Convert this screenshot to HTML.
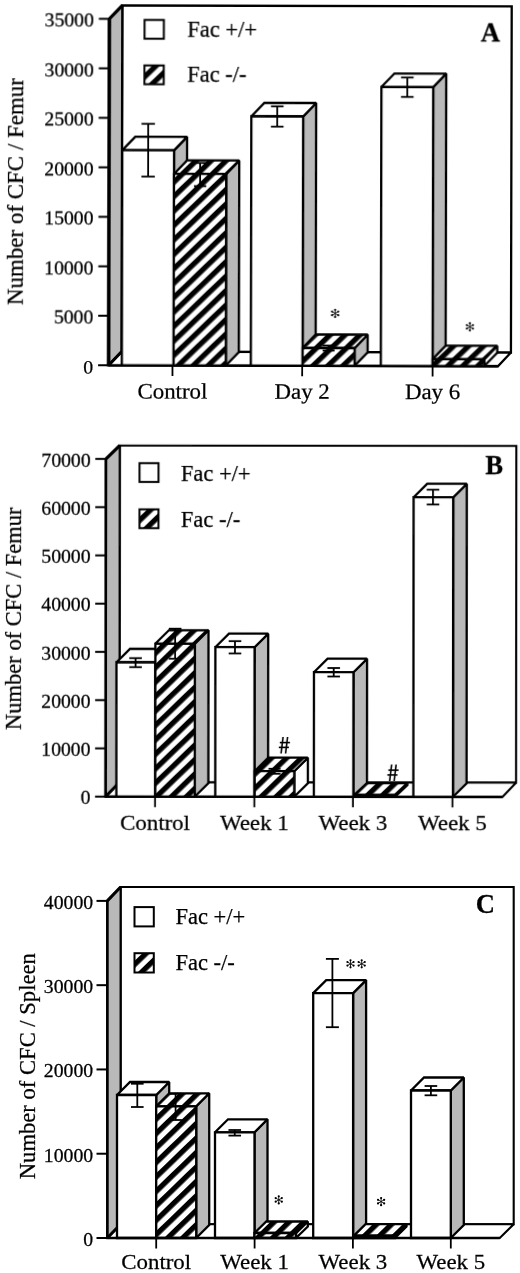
<!DOCTYPE html>
<html><head><meta charset="utf-8"><style>
html,body{margin:0;padding:0;background:#fff;}
svg{display:block;}
text{font-family:"Liberation Serif", serif;fill:#000;stroke:#000;stroke-width:0.25px;}
</style></head><body>
<svg width="520" height="1273" viewBox="0 0 520 1273">
<defs>
<pattern id="hatchA" patternUnits="userSpaceOnUse" width="10.4" height="20" patternTransform="rotate(46) translate(-0.23,0)"><rect x="0" y="0" width="10.4" height="20" fill="#fff"/><rect x="0" y="0" width="5.3" height="20" fill="#000"/></pattern>
<pattern id="hatchB" patternUnits="userSpaceOnUse" width="10.4" height="20" patternTransform="rotate(46) translate(3.3,0)"><rect x="0" y="0" width="10.4" height="20" fill="#fff"/><rect x="0" y="0" width="5.3" height="20" fill="#000"/></pattern>
<pattern id="hatchC" patternUnits="userSpaceOnUse" width="10.4" height="20" patternTransform="rotate(46) translate(-4.37,0)"><rect x="0" y="0" width="10.4" height="20" fill="#fff"/><rect x="0" y="0" width="5.3" height="20" fill="#000"/></pattern>
<pattern id="hatchLA" patternUnits="userSpaceOnUse" width="10.4" height="20" patternTransform="rotate(46) translate(-2.85,0)"><rect x="0" y="0" width="10.4" height="20" fill="#fff"/><rect x="0" y="0" width="5.3" height="20" fill="#000"/></pattern>
<pattern id="hatchLB" patternUnits="userSpaceOnUse" width="10.4" height="20" patternTransform="rotate(46) translate(0.75,0)"><rect x="0" y="0" width="10.4" height="20" fill="#fff"/><rect x="0" y="0" width="5.3" height="20" fill="#000"/></pattern>
<pattern id="hatchLC" patternUnits="userSpaceOnUse" width="10.4" height="20" patternTransform="rotate(46) translate(-5.75,0)"><rect x="0" y="0" width="10.4" height="20" fill="#fff"/><rect x="0" y="0" width="5.3" height="20" fill="#000"/></pattern>
</defs>
<filter id="soft" filterUnits="userSpaceOnUse" x="0" y="0" width="520" height="1273"><feGaussianBlur stdDeviation="0.3"/></filter>
<rect x="0" y="0" width="520" height="1273" fill="#fff"/>
<g filter="url(#soft)">
<g transform="rotate(0.13 310 190)">
<polygon points="121.90,5.90 511.30,5.90 511.30,352.10 121.90,352.10" fill="#fff" stroke="#000" stroke-width="2.3" stroke-linejoin="miter" stroke-miterlimit="2" />
<polygon points="109.00,365.80 109.00,19.30 121.90,5.90 121.90,352.10" fill="#b9b9b9" stroke="#000" stroke-width="2.3" stroke-linejoin="miter" stroke-miterlimit="2" />
<polygon points="109.00,365.80 121.90,352.10 511.30,352.10 498.30,365.80" fill="#fff" stroke="#000" stroke-width="2.3" stroke-linejoin="miter" stroke-miterlimit="2" />
<line x1="109.00" y1="365.80" x2="121.90" y2="352.10" stroke="#000" stroke-width="3.0"/>
<line x1="98.50" y1="365.80" x2="109.00" y2="365.80" stroke="#000" stroke-width="2.0"/>
<text transform="translate(93.60,373.90) scale(1.05,1.0)" font-size="18.8" text-anchor="end" font-weight="normal">0</text>
<line x1="98.50" y1="316.30" x2="109.00" y2="316.30" stroke="#000" stroke-width="2.0"/>
<text transform="translate(93.60,324.40) scale(1.05,1.0)" font-size="18.8" text-anchor="end" font-weight="normal">5000</text>
<line x1="98.50" y1="266.80" x2="109.00" y2="266.80" stroke="#000" stroke-width="2.0"/>
<text transform="translate(93.60,274.90) scale(1.05,1.0)" font-size="18.8" text-anchor="end" font-weight="normal">10000</text>
<line x1="98.50" y1="217.30" x2="109.00" y2="217.30" stroke="#000" stroke-width="2.0"/>
<text transform="translate(93.60,225.40) scale(1.05,1.0)" font-size="18.8" text-anchor="end" font-weight="normal">15000</text>
<line x1="98.50" y1="167.80" x2="109.00" y2="167.80" stroke="#000" stroke-width="2.0"/>
<text transform="translate(93.60,175.90) scale(1.05,1.0)" font-size="18.8" text-anchor="end" font-weight="normal">20000</text>
<line x1="98.50" y1="118.30" x2="109.00" y2="118.30" stroke="#000" stroke-width="2.0"/>
<text transform="translate(93.60,126.40) scale(1.05,1.0)" font-size="18.8" text-anchor="end" font-weight="normal">25000</text>
<line x1="98.50" y1="68.80" x2="109.00" y2="68.80" stroke="#000" stroke-width="2.0"/>
<text transform="translate(93.60,76.90) scale(1.05,1.0)" font-size="18.8" text-anchor="end" font-weight="normal">30000</text>
<line x1="98.50" y1="19.30" x2="109.00" y2="19.30" stroke="#000" stroke-width="2.0"/>
<text transform="translate(93.60,27.40) scale(1.05,1.0)" font-size="18.8" text-anchor="end" font-weight="normal">35000</text>
<line x1="172.90" y1="365.80" x2="172.90" y2="376.30" stroke="#000" stroke-width="1.8"/>
<text transform="translate(172.90,398.80) scale(1.04,1.0)" font-size="22" text-anchor="middle" font-weight="normal">Control</text>
<line x1="302.60" y1="365.80" x2="302.60" y2="376.30" stroke="#000" stroke-width="1.8"/>
<text transform="translate(302.60,398.80) scale(1.04,1.0)" font-size="22" text-anchor="middle" font-weight="normal">Day 2</text>
<line x1="433.00" y1="365.80" x2="433.00" y2="376.30" stroke="#000" stroke-width="1.8"/>
<text transform="translate(433.00,398.80) scale(1.04,1.0)" font-size="22" text-anchor="middle" font-weight="normal">Day 6</text>
<polygon points="174.00,365.80 174.00,150.60 187.00,137.10 187.00,352.30" fill="#b9b9b9" stroke="#000" stroke-width="2.3" stroke-linejoin="miter" stroke-miterlimit="2" />
<polygon points="122.20,150.60 135.20,137.10 187.00,137.10 174.00,150.60" fill="#fff" stroke="#000" stroke-width="2.3" stroke-linejoin="miter" stroke-miterlimit="2" />
<polygon points="122.20,365.80 122.20,150.60 174.00,150.60 174.00,365.80" fill="#fff" stroke="#000" stroke-width="2.3" stroke-linejoin="miter" stroke-miterlimit="2" />
<line x1="148.10" y1="124.20" x2="148.10" y2="176.90" stroke="#000" stroke-width="1.8"/>
<line x1="141.40" y1="124.20" x2="154.80" y2="124.20" stroke="#000" stroke-width="1.8"/>
<line x1="141.40" y1="176.90" x2="154.80" y2="176.90" stroke="#000" stroke-width="1.8"/>
<polygon points="226.20,365.80 226.20,174.20 239.20,160.70 239.20,352.30" fill="#b9b9b9" stroke="#000" stroke-width="2.3" stroke-linejoin="miter" stroke-miterlimit="2" />
<polygon points="174.00,174.20 187.00,160.70 239.20,160.70 226.20,174.20" fill="url(#hatchA)" stroke="#000" stroke-width="2.3" stroke-linejoin="miter" stroke-miterlimit="2" />
<polygon points="174.00,365.80 174.00,174.20 226.20,174.20 226.20,365.80" fill="url(#hatchA)" stroke="#000" stroke-width="2.3" stroke-linejoin="miter" stroke-miterlimit="2" />
<line x1="200.10" y1="163.20" x2="200.10" y2="186.40" stroke="#000" stroke-width="1.8"/>
<line x1="193.90" y1="163.20" x2="206.30" y2="163.20" stroke="#000" stroke-width="1.8"/>
<line x1="193.90" y1="186.40" x2="206.30" y2="186.40" stroke="#000" stroke-width="1.8"/>
<polygon points="303.00,365.80 303.00,116.50 316.00,103.00 316.00,352.30" fill="#b9b9b9" stroke="#000" stroke-width="2.3" stroke-linejoin="miter" stroke-miterlimit="2" />
<polygon points="251.20,116.50 264.20,103.00 316.00,103.00 303.00,116.50" fill="#fff" stroke="#000" stroke-width="2.3" stroke-linejoin="miter" stroke-miterlimit="2" />
<polygon points="251.20,365.80 251.20,116.50 303.00,116.50 303.00,365.80" fill="#fff" stroke="#000" stroke-width="2.3" stroke-linejoin="miter" stroke-miterlimit="2" />
<line x1="277.10" y1="106.40" x2="277.10" y2="126.70" stroke="#000" stroke-width="1.8"/>
<line x1="270.80" y1="106.40" x2="283.40" y2="106.40" stroke="#000" stroke-width="1.8"/>
<line x1="270.80" y1="126.70" x2="283.40" y2="126.70" stroke="#000" stroke-width="1.8"/>
<polygon points="355.00,365.80 355.00,348.00 368.00,334.50 368.00,352.30" fill="#b9b9b9" stroke="#000" stroke-width="2.3" stroke-linejoin="miter" stroke-miterlimit="2" />
<polygon points="303.00,348.00 316.00,334.50 368.00,334.50 355.00,348.00" fill="url(#hatchA)" stroke="#000" stroke-width="2.3" stroke-linejoin="miter" stroke-miterlimit="2" />
<polygon points="303.00,365.80 303.00,348.00 355.00,348.00 355.00,365.80" fill="url(#hatchA)" stroke="#000" stroke-width="2.3" stroke-linejoin="miter" stroke-miterlimit="2" />
<line x1="329.00" y1="345.50" x2="329.00" y2="350.50" stroke="#000" stroke-width="1.8"/>
<line x1="323.00" y1="345.50" x2="335.00" y2="345.50" stroke="#000" stroke-width="1.8"/>
<line x1="323.00" y1="350.50" x2="335.00" y2="350.50" stroke="#000" stroke-width="1.8"/>
<polygon points="433.00,365.80 433.00,86.80 446.00,73.30 446.00,352.30" fill="#b9b9b9" stroke="#000" stroke-width="2.3" stroke-linejoin="miter" stroke-miterlimit="2" />
<polygon points="381.20,86.80 394.20,73.30 446.00,73.30 433.00,86.80" fill="#fff" stroke="#000" stroke-width="2.3" stroke-linejoin="miter" stroke-miterlimit="2" />
<polygon points="381.20,365.80 381.20,86.80 433.00,86.80 433.00,365.80" fill="#fff" stroke="#000" stroke-width="2.3" stroke-linejoin="miter" stroke-miterlimit="2" />
<line x1="407.10" y1="77.30" x2="407.10" y2="96.70" stroke="#000" stroke-width="1.8"/>
<line x1="400.80" y1="77.30" x2="413.40" y2="77.30" stroke="#000" stroke-width="1.8"/>
<line x1="400.80" y1="96.70" x2="413.40" y2="96.70" stroke="#000" stroke-width="1.8"/>
<polygon points="484.60,365.80 484.60,358.90 497.60,345.40 497.60,352.30" fill="#fff" stroke="#000" stroke-width="2.3" stroke-linejoin="miter" stroke-miterlimit="2" />
<polygon points="433.00,358.90 446.00,345.40 497.60,345.40 484.60,358.90" fill="url(#hatchA)" stroke="#000" stroke-width="2.3" stroke-linejoin="miter" stroke-miterlimit="2" />
<polygon points="433.00,365.80 433.00,358.90 484.60,358.90 484.60,365.80" fill="url(#hatchA)" stroke="#000" stroke-width="2.3" stroke-linejoin="miter" stroke-miterlimit="2" />
<line x1="109.00" y1="19.30" x2="109.00" y2="366.80" stroke="#000" stroke-width="3.4"/>
<line x1="109.00" y1="19.30" x2="121.90" y2="5.90" stroke="#000" stroke-width="3.0"/>
<line x1="108.00" y1="365.80" x2="498.30" y2="365.80" stroke="#000" stroke-width="2.3"/>
<line x1="335.40" y1="313.40" x2="335.40" y2="309.85" stroke="#000" stroke-width="0.85"/>
<circle cx="335.40" cy="309.85" r="1.1" fill="#000"/>
<line x1="335.40" y1="313.40" x2="338.47" y2="311.62" stroke="#000" stroke-width="0.85"/>
<circle cx="338.47" cy="311.62" r="1.1" fill="#000"/>
<line x1="335.40" y1="313.40" x2="338.47" y2="315.17" stroke="#000" stroke-width="0.85"/>
<circle cx="338.47" cy="315.17" r="1.1" fill="#000"/>
<line x1="335.40" y1="313.40" x2="335.40" y2="316.95" stroke="#000" stroke-width="0.85"/>
<circle cx="335.40" cy="316.95" r="1.1" fill="#000"/>
<line x1="335.40" y1="313.40" x2="332.33" y2="315.17" stroke="#000" stroke-width="0.85"/>
<circle cx="332.33" cy="315.17" r="1.1" fill="#000"/>
<line x1="335.40" y1="313.40" x2="332.33" y2="311.62" stroke="#000" stroke-width="0.85"/>
<circle cx="332.33" cy="311.62" r="1.1" fill="#000"/>
<line x1="470.20" y1="326.50" x2="470.20" y2="322.95" stroke="#000" stroke-width="0.85"/>
<circle cx="470.20" cy="322.95" r="1.1" fill="#000"/>
<line x1="470.20" y1="326.50" x2="473.27" y2="324.73" stroke="#000" stroke-width="0.85"/>
<circle cx="473.27" cy="324.73" r="1.1" fill="#000"/>
<line x1="470.20" y1="326.50" x2="473.27" y2="328.27" stroke="#000" stroke-width="0.85"/>
<circle cx="473.27" cy="328.27" r="1.1" fill="#000"/>
<line x1="470.20" y1="326.50" x2="470.20" y2="330.05" stroke="#000" stroke-width="0.85"/>
<circle cx="470.20" cy="330.05" r="1.1" fill="#000"/>
<line x1="470.20" y1="326.50" x2="467.13" y2="328.27" stroke="#000" stroke-width="0.85"/>
<circle cx="467.13" cy="328.27" r="1.1" fill="#000"/>
<line x1="470.20" y1="326.50" x2="467.13" y2="324.73" stroke="#000" stroke-width="0.85"/>
<circle cx="467.13" cy="324.73" r="1.1" fill="#000"/>
<rect x="144.20" y="20.30" width="19.3" height="18.8" fill="#fff" stroke="#000" stroke-width="2"/>
<rect x="144.20" y="65.80" width="19.3" height="18.8" fill="url(#hatchLA)" stroke="#000" stroke-width="2"/>
<text transform="translate(187.00,36.80) scale(1.0,1.0)" font-size="22.5" text-anchor="start" font-weight="normal">Fac +/+</text>
<text transform="translate(187.00,82.30) scale(1.0,1.0)" font-size="22.5" text-anchor="start" font-weight="normal">Fac -/-</text>
<text transform="translate(490.10,40.90) scale(0.95,1.0)" font-size="28" text-anchor="middle" font-weight="bold">A</text>
<text transform="translate(23.10,192.30) rotate(-90) scale(1.02,1)" font-size="22.5" text-anchor="middle">Number of CFC / Femur</text>
</g>
<g transform="rotate(0.05 310 620)">
<polygon points="119.60,445.70 516.20,445.70 516.20,782.50 119.60,782.50" fill="#fff" stroke="#000" stroke-width="2.1" stroke-linejoin="miter" stroke-miterlimit="2" />
<polygon points="105.80,796.80 105.80,459.10 119.60,445.70 119.60,782.50" fill="#b9b9b9" stroke="#000" stroke-width="2.1" stroke-linejoin="miter" stroke-miterlimit="2" />
<polygon points="105.80,796.80 119.60,782.50 516.20,782.50 502.70,796.80" fill="#fff" stroke="#000" stroke-width="2.1" stroke-linejoin="miter" stroke-miterlimit="2" />
<line x1="105.80" y1="796.80" x2="119.60" y2="782.50" stroke="#000" stroke-width="3.0"/>
<line x1="95.20" y1="796.80" x2="105.80" y2="796.80" stroke="#000" stroke-width="2.0"/>
<text transform="translate(90.60,804.40) scale(1.05,1.0)" font-size="18.8" text-anchor="end" font-weight="normal">0</text>
<line x1="95.20" y1="748.56" x2="105.80" y2="748.56" stroke="#000" stroke-width="2.0"/>
<text transform="translate(90.60,756.16) scale(1.05,1.0)" font-size="18.8" text-anchor="end" font-weight="normal">10000</text>
<line x1="95.20" y1="700.31" x2="105.80" y2="700.31" stroke="#000" stroke-width="2.0"/>
<text transform="translate(90.60,707.91) scale(1.05,1.0)" font-size="18.8" text-anchor="end" font-weight="normal">20000</text>
<line x1="95.20" y1="652.07" x2="105.80" y2="652.07" stroke="#000" stroke-width="2.0"/>
<text transform="translate(90.60,659.67) scale(1.05,1.0)" font-size="18.8" text-anchor="end" font-weight="normal">30000</text>
<line x1="95.20" y1="603.83" x2="105.80" y2="603.83" stroke="#000" stroke-width="2.0"/>
<text transform="translate(90.60,611.43) scale(1.05,1.0)" font-size="18.8" text-anchor="end" font-weight="normal">40000</text>
<line x1="95.20" y1="555.59" x2="105.80" y2="555.59" stroke="#000" stroke-width="2.0"/>
<text transform="translate(90.60,563.19) scale(1.05,1.0)" font-size="18.8" text-anchor="end" font-weight="normal">50000</text>
<line x1="95.20" y1="507.34" x2="105.80" y2="507.34" stroke="#000" stroke-width="2.0"/>
<text transform="translate(90.60,514.94) scale(1.05,1.0)" font-size="18.8" text-anchor="end" font-weight="normal">60000</text>
<line x1="95.20" y1="459.10" x2="105.80" y2="459.10" stroke="#000" stroke-width="2.0"/>
<text transform="translate(90.60,466.70) scale(1.05,1.0)" font-size="18.8" text-anchor="end" font-weight="normal">70000</text>
<line x1="155.20" y1="796.80" x2="155.20" y2="807.30" stroke="#000" stroke-width="1.8"/>
<text transform="translate(155.20,830.00) scale(1.04,1.0)" font-size="22" text-anchor="middle" font-weight="normal">Control</text>
<line x1="254.50" y1="796.80" x2="254.50" y2="807.30" stroke="#000" stroke-width="1.8"/>
<text transform="translate(254.50,830.00) scale(1.04,1.0)" font-size="22" text-anchor="middle" font-weight="normal">Week 1</text>
<line x1="353.10" y1="796.80" x2="353.10" y2="807.30" stroke="#000" stroke-width="1.8"/>
<text transform="translate(353.10,830.00) scale(1.04,1.0)" font-size="22" text-anchor="middle" font-weight="normal">Week 3</text>
<line x1="452.60" y1="796.80" x2="452.60" y2="807.30" stroke="#000" stroke-width="1.8"/>
<text transform="translate(452.60,830.00) scale(1.04,1.0)" font-size="22" text-anchor="middle" font-weight="normal">Week 5</text>
<polygon points="155.40,796.80 155.40,662.50 169.00,649.00 169.00,783.30" fill="#b9b9b9" stroke="#000" stroke-width="2.3" stroke-linejoin="miter" stroke-miterlimit="2" />
<polygon points="116.50,662.50 130.10,649.00 169.00,649.00 155.40,662.50" fill="#fff" stroke="#000" stroke-width="2.3" stroke-linejoin="miter" stroke-miterlimit="2" />
<polygon points="116.50,796.80 116.50,662.50 155.40,662.50 155.40,796.80" fill="#fff" stroke="#000" stroke-width="2.3" stroke-linejoin="miter" stroke-miterlimit="2" />
<line x1="135.60" y1="658.30" x2="135.60" y2="667.30" stroke="#000" stroke-width="1.8"/>
<line x1="129.30" y1="658.30" x2="141.90" y2="658.30" stroke="#000" stroke-width="1.8"/>
<line x1="129.30" y1="667.30" x2="141.90" y2="667.30" stroke="#000" stroke-width="1.8"/>
<polygon points="194.90,796.80 194.90,643.80 208.50,630.30 208.50,783.30" fill="#b9b9b9" stroke="#000" stroke-width="2.3" stroke-linejoin="miter" stroke-miterlimit="2" />
<polygon points="155.40,643.80 169.00,630.30 208.50,630.30 194.90,643.80" fill="url(#hatchB)" stroke="#000" stroke-width="2.3" stroke-linejoin="miter" stroke-miterlimit="2" />
<polygon points="155.40,796.80 155.40,643.80 194.90,643.80 194.90,796.80" fill="url(#hatchB)" stroke="#000" stroke-width="2.3" stroke-linejoin="miter" stroke-miterlimit="2" />
<line x1="175.15" y1="628.80" x2="175.15" y2="658.80" stroke="#000" stroke-width="1.8"/>
<line x1="168.85" y1="628.80" x2="181.45" y2="628.80" stroke="#000" stroke-width="1.8"/>
<line x1="168.85" y1="658.80" x2="181.45" y2="658.80" stroke="#000" stroke-width="1.8"/>
<polygon points="254.60,796.80 254.60,647.20 268.20,633.70 268.20,783.30" fill="#b9b9b9" stroke="#000" stroke-width="2.3" stroke-linejoin="miter" stroke-miterlimit="2" />
<polygon points="215.40,647.20 229.00,633.70 268.20,633.70 254.60,647.20" fill="#fff" stroke="#000" stroke-width="2.3" stroke-linejoin="miter" stroke-miterlimit="2" />
<polygon points="215.40,796.80 215.40,647.20 254.60,647.20 254.60,796.80" fill="#fff" stroke="#000" stroke-width="2.3" stroke-linejoin="miter" stroke-miterlimit="2" />
<line x1="235.00" y1="641.20" x2="235.00" y2="653.50" stroke="#000" stroke-width="1.8"/>
<line x1="228.70" y1="641.20" x2="241.30" y2="641.20" stroke="#000" stroke-width="1.8"/>
<line x1="228.70" y1="653.50" x2="241.30" y2="653.50" stroke="#000" stroke-width="1.8"/>
<polygon points="294.40,796.80 294.40,771.20 308.00,757.70 308.00,783.30" fill="#fff" stroke="#000" stroke-width="2.3" stroke-linejoin="miter" stroke-miterlimit="2" />
<polygon points="254.80,771.20 268.40,757.70 308.00,757.70 294.40,771.20" fill="url(#hatchB)" stroke="#000" stroke-width="2.3" stroke-linejoin="miter" stroke-miterlimit="2" />
<polygon points="254.80,796.80 254.80,771.20 294.40,771.20 294.40,796.80" fill="url(#hatchB)" stroke="#000" stroke-width="2.3" stroke-linejoin="miter" stroke-miterlimit="2" />
<line x1="274.60" y1="768.80" x2="274.60" y2="773.80" stroke="#000" stroke-width="1.8"/>
<line x1="268.60" y1="768.80" x2="280.60" y2="768.80" stroke="#000" stroke-width="1.8"/>
<line x1="268.60" y1="773.80" x2="280.60" y2="773.80" stroke="#000" stroke-width="1.8"/>
<polygon points="353.50,796.80 353.50,672.20 367.10,658.70 367.10,783.30" fill="#b9b9b9" stroke="#000" stroke-width="2.3" stroke-linejoin="miter" stroke-miterlimit="2" />
<polygon points="314.00,672.20 327.60,658.70 367.10,658.70 353.50,672.20" fill="#fff" stroke="#000" stroke-width="2.3" stroke-linejoin="miter" stroke-miterlimit="2" />
<polygon points="314.00,796.80 314.00,672.20 353.50,672.20 353.50,796.80" fill="#fff" stroke="#000" stroke-width="2.3" stroke-linejoin="miter" stroke-miterlimit="2" />
<line x1="333.75" y1="668.00" x2="333.75" y2="676.50" stroke="#000" stroke-width="1.8"/>
<line x1="327.45" y1="668.00" x2="340.05" y2="668.00" stroke="#000" stroke-width="1.8"/>
<line x1="327.45" y1="676.50" x2="340.05" y2="676.50" stroke="#000" stroke-width="1.8"/>
<polygon points="395.00,796.80 395.00,794.80 407.50,783.10 407.50,785.10" fill="#fff" stroke="#000" stroke-width="2.3" stroke-linejoin="miter" stroke-miterlimit="2" />
<polygon points="354.50,794.80 367.00,783.10 407.50,783.10 395.00,794.80" fill="url(#hatchB)" stroke="#000" stroke-width="2.3" stroke-linejoin="miter" stroke-miterlimit="2" />
<polygon points="354.50,796.80 354.50,794.80 395.00,794.80 395.00,796.80" fill="url(#hatchB)" stroke="#000" stroke-width="2.3" stroke-linejoin="miter" stroke-miterlimit="2" />
<polygon points="453.10,796.80 453.10,497.20 466.70,483.70 466.70,783.30" fill="#b9b9b9" stroke="#000" stroke-width="2.3" stroke-linejoin="miter" stroke-miterlimit="2" />
<polygon points="413.50,497.20 427.10,483.70 466.70,483.70 453.10,497.20" fill="#fff" stroke="#000" stroke-width="2.3" stroke-linejoin="miter" stroke-miterlimit="2" />
<polygon points="413.50,796.80 413.50,497.20 453.10,497.20 453.10,796.80" fill="#fff" stroke="#000" stroke-width="2.3" stroke-linejoin="miter" stroke-miterlimit="2" />
<line x1="432.90" y1="489.60" x2="432.90" y2="504.40" stroke="#000" stroke-width="1.8"/>
<line x1="426.60" y1="489.60" x2="439.20" y2="489.60" stroke="#000" stroke-width="1.8"/>
<line x1="426.60" y1="504.40" x2="439.20" y2="504.40" stroke="#000" stroke-width="1.8"/>
<line x1="105.80" y1="459.10" x2="105.80" y2="797.80" stroke="#000" stroke-width="2.5"/>
<line x1="105.80" y1="459.10" x2="119.60" y2="445.70" stroke="#000" stroke-width="3.0"/>
<line x1="104.80" y1="796.80" x2="502.70" y2="796.80" stroke="#000" stroke-width="2.3"/>
<line x1="283.15" y1="737.00" x2="281.15" y2="753.50" stroke="#000" stroke-width="1.6"/>
<line x1="287.65" y1="737.00" x2="285.65" y2="753.50" stroke="#000" stroke-width="1.6"/>
<line x1="279.90" y1="742.60" x2="290.10" y2="742.60" stroke="#000" stroke-width="1.6"/>
<line x1="278.90" y1="747.40" x2="289.00" y2="747.40" stroke="#000" stroke-width="1.6"/>
<line x1="391.75" y1="764.50" x2="389.75" y2="781.00" stroke="#000" stroke-width="1.6"/>
<line x1="396.25" y1="764.50" x2="394.25" y2="781.00" stroke="#000" stroke-width="1.6"/>
<line x1="388.50" y1="770.10" x2="398.70" y2="770.10" stroke="#000" stroke-width="1.6"/>
<line x1="387.50" y1="774.90" x2="397.60" y2="774.90" stroke="#000" stroke-width="1.6"/>
<rect x="139.40" y="463.30" width="19.0" height="18.8" fill="#fff" stroke="#000" stroke-width="2"/>
<rect x="139.40" y="509.50" width="19.0" height="18.8" fill="url(#hatchLB)" stroke="#000" stroke-width="2"/>
<text transform="translate(180.80,480.80) scale(1.0,1.0)" font-size="22.5" text-anchor="start" font-weight="normal">Fac +/+</text>
<text transform="translate(180.80,527.00) scale(1.0,1.0)" font-size="22.5" text-anchor="start" font-weight="normal">Fac -/-</text>
<text transform="translate(494.00,474.30) scale(0.95,1.0)" font-size="28" text-anchor="middle" font-weight="bold">B</text>
<text transform="translate(20.80,618.90) rotate(-90) scale(1.0,1)" font-size="22.5" text-anchor="middle">Number of CFC / Femur</text>
</g>
<g transform="rotate(0.0 310 1065)">
<polygon points="120.60,887.00 513.70,887.00 513.70,1224.20 120.60,1224.20" fill="#fff" stroke="#000" stroke-width="2.1" stroke-linejoin="miter" stroke-miterlimit="2" />
<polygon points="107.30,1238.00 107.30,900.90 120.60,887.00 120.60,1224.20" fill="#b9b9b9" stroke="#000" stroke-width="2.1" stroke-linejoin="miter" stroke-miterlimit="2" />
<polygon points="107.30,1238.00 120.60,1224.20 513.70,1224.20 499.80,1238.00" fill="#fff" stroke="#000" stroke-width="2.1" stroke-linejoin="miter" stroke-miterlimit="2" />
<line x1="107.30" y1="1238.00" x2="120.60" y2="1224.20" stroke="#000" stroke-width="3.0"/>
<line x1="96.50" y1="1238.00" x2="107.30" y2="1238.00" stroke="#000" stroke-width="2.0"/>
<text transform="translate(93.20,1245.80) scale(1.05,1.0)" font-size="18.8" text-anchor="end" font-weight="normal">0</text>
<line x1="96.50" y1="1153.72" x2="107.30" y2="1153.72" stroke="#000" stroke-width="2.0"/>
<text transform="translate(93.20,1161.52) scale(1.05,1.0)" font-size="18.8" text-anchor="end" font-weight="normal">10000</text>
<line x1="96.50" y1="1069.45" x2="107.30" y2="1069.45" stroke="#000" stroke-width="2.0"/>
<text transform="translate(93.20,1077.25) scale(1.05,1.0)" font-size="18.8" text-anchor="end" font-weight="normal">20000</text>
<line x1="96.50" y1="985.17" x2="107.30" y2="985.17" stroke="#000" stroke-width="2.0"/>
<text transform="translate(93.20,992.97) scale(1.05,1.0)" font-size="18.8" text-anchor="end" font-weight="normal">30000</text>
<line x1="96.50" y1="900.90" x2="107.30" y2="900.90" stroke="#000" stroke-width="2.0"/>
<text transform="translate(93.20,908.70) scale(1.05,1.0)" font-size="18.8" text-anchor="end" font-weight="normal">40000</text>
<line x1="156.20" y1="1238.00" x2="156.20" y2="1248.50" stroke="#000" stroke-width="1.8"/>
<text transform="translate(156.20,1269.40) scale(1.04,1.0)" font-size="22" text-anchor="middle" font-weight="normal">Control</text>
<line x1="254.60" y1="1238.00" x2="254.60" y2="1248.50" stroke="#000" stroke-width="1.8"/>
<text transform="translate(254.60,1269.40) scale(1.04,1.0)" font-size="22" text-anchor="middle" font-weight="normal">Week 1</text>
<line x1="352.90" y1="1238.00" x2="352.90" y2="1248.50" stroke="#000" stroke-width="1.8"/>
<text transform="translate(352.90,1269.40) scale(1.04,1.0)" font-size="22" text-anchor="middle" font-weight="normal">Week 3</text>
<line x1="450.80" y1="1238.00" x2="450.80" y2="1248.50" stroke="#000" stroke-width="1.8"/>
<text transform="translate(450.80,1269.40) scale(1.04,1.0)" font-size="22" text-anchor="middle" font-weight="normal">Week 5</text>
<polygon points="156.20,1238.00 156.20,1095.00 169.20,1082.00 169.20,1225.00" fill="#b9b9b9" stroke="#000" stroke-width="2.3" stroke-linejoin="miter" stroke-miterlimit="2" />
<polygon points="117.00,1095.00 130.00,1082.00 169.20,1082.00 156.20,1095.00" fill="#fff" stroke="#000" stroke-width="2.3" stroke-linejoin="miter" stroke-miterlimit="2" />
<polygon points="117.00,1238.00 117.00,1095.00 156.20,1095.00 156.20,1238.00" fill="#fff" stroke="#000" stroke-width="2.3" stroke-linejoin="miter" stroke-miterlimit="2" />
<line x1="137.30" y1="1083.75" x2="137.30" y2="1107.00" stroke="#000" stroke-width="1.8"/>
<line x1="131.00" y1="1083.75" x2="143.60" y2="1083.75" stroke="#000" stroke-width="1.8"/>
<line x1="131.00" y1="1107.00" x2="143.60" y2="1107.00" stroke="#000" stroke-width="1.8"/>
<polygon points="196.20,1238.00 196.20,1106.30 209.20,1093.30 209.20,1225.00" fill="#b9b9b9" stroke="#000" stroke-width="2.3" stroke-linejoin="miter" stroke-miterlimit="2" />
<polygon points="156.20,1106.30 169.20,1093.30 209.20,1093.30 196.20,1106.30" fill="url(#hatchC)" stroke="#000" stroke-width="2.3" stroke-linejoin="miter" stroke-miterlimit="2" />
<polygon points="156.20,1238.00 156.20,1106.30 196.20,1106.30 196.20,1238.00" fill="url(#hatchC)" stroke="#000" stroke-width="2.3" stroke-linejoin="miter" stroke-miterlimit="2" />
<line x1="175.60" y1="1093.75" x2="175.60" y2="1120.00" stroke="#000" stroke-width="1.8"/>
<line x1="169.30" y1="1093.75" x2="181.90" y2="1093.75" stroke="#000" stroke-width="1.8"/>
<line x1="169.30" y1="1120.00" x2="181.90" y2="1120.00" stroke="#000" stroke-width="1.8"/>
<polygon points="254.50,1238.00 254.50,1132.30 267.50,1119.30 267.50,1225.00" fill="#b9b9b9" stroke="#000" stroke-width="2.3" stroke-linejoin="miter" stroke-miterlimit="2" />
<polygon points="215.00,1132.30 228.00,1119.30 267.50,1119.30 254.50,1132.30" fill="#fff" stroke="#000" stroke-width="2.3" stroke-linejoin="miter" stroke-miterlimit="2" />
<polygon points="215.00,1238.00 215.00,1132.30 254.50,1132.30 254.50,1238.00" fill="#fff" stroke="#000" stroke-width="2.3" stroke-linejoin="miter" stroke-miterlimit="2" />
<line x1="234.75" y1="1130.00" x2="234.75" y2="1135.60" stroke="#000" stroke-width="1.8"/>
<line x1="228.45" y1="1130.00" x2="241.05" y2="1130.00" stroke="#000" stroke-width="1.8"/>
<line x1="228.45" y1="1135.60" x2="241.05" y2="1135.60" stroke="#000" stroke-width="1.8"/>
<polygon points="296.00,1238.00 296.00,1233.00 307.80,1221.50 307.80,1226.50" fill="#fff" stroke="#000" stroke-width="2.3" stroke-linejoin="miter" stroke-miterlimit="2" />
<polygon points="254.50,1233.00 266.30,1221.50 307.80,1221.50 296.00,1233.00" fill="url(#hatchC)" stroke="#000" stroke-width="2.3" stroke-linejoin="miter" stroke-miterlimit="2" />
<polygon points="254.50,1238.00 254.50,1233.00 296.00,1233.00 296.00,1238.00" fill="url(#hatchC)" stroke="#000" stroke-width="2.3" stroke-linejoin="miter" stroke-miterlimit="2" />
<polygon points="353.10,1238.00 353.10,993.10 366.10,980.10 366.10,1225.00" fill="#b9b9b9" stroke="#000" stroke-width="2.3" stroke-linejoin="miter" stroke-miterlimit="2" />
<polygon points="313.20,993.10 326.20,980.10 366.10,980.10 353.10,993.10" fill="#fff" stroke="#000" stroke-width="2.3" stroke-linejoin="miter" stroke-miterlimit="2" />
<polygon points="313.20,1238.00 313.20,993.10 353.10,993.10 353.10,1238.00" fill="#fff" stroke="#000" stroke-width="2.3" stroke-linejoin="miter" stroke-miterlimit="2" />
<line x1="332.40" y1="958.90" x2="332.40" y2="1027.20" stroke="#000" stroke-width="1.8"/>
<line x1="325.90" y1="958.90" x2="338.90" y2="958.90" stroke="#000" stroke-width="1.8"/>
<line x1="325.90" y1="1027.20" x2="338.90" y2="1027.20" stroke="#000" stroke-width="1.8"/>
<polygon points="395.00,1238.00 395.00,1235.60 406.50,1224.10 406.50,1226.50" fill="#fff" stroke="#000" stroke-width="2.3" stroke-linejoin="miter" stroke-miterlimit="2" />
<polygon points="354.00,1235.60 365.50,1224.10 406.50,1224.10 395.00,1235.60" fill="url(#hatchC)" stroke="#000" stroke-width="2.3" stroke-linejoin="miter" stroke-miterlimit="2" />
<polygon points="354.00,1238.00 354.00,1235.60 395.00,1235.60 395.00,1238.00" fill="url(#hatchC)" stroke="#000" stroke-width="2.3" stroke-linejoin="miter" stroke-miterlimit="2" />
<polygon points="450.80,1238.00 450.80,1090.50 463.80,1077.50 463.80,1225.00" fill="#b9b9b9" stroke="#000" stroke-width="2.3" stroke-linejoin="miter" stroke-miterlimit="2" />
<polygon points="411.00,1090.50 424.00,1077.50 463.80,1077.50 450.80,1090.50" fill="#fff" stroke="#000" stroke-width="2.3" stroke-linejoin="miter" stroke-miterlimit="2" />
<polygon points="411.00,1238.00 411.00,1090.50 450.80,1090.50 450.80,1238.00" fill="#fff" stroke="#000" stroke-width="2.3" stroke-linejoin="miter" stroke-miterlimit="2" />
<line x1="430.90" y1="1086.00" x2="430.90" y2="1095.30" stroke="#000" stroke-width="1.8"/>
<line x1="424.60" y1="1086.00" x2="437.20" y2="1086.00" stroke="#000" stroke-width="1.8"/>
<line x1="424.60" y1="1095.30" x2="437.20" y2="1095.30" stroke="#000" stroke-width="1.8"/>
<line x1="107.30" y1="900.90" x2="107.30" y2="1239.00" stroke="#000" stroke-width="2.5"/>
<line x1="107.30" y1="900.90" x2="120.60" y2="887.00" stroke="#000" stroke-width="3.0"/>
<line x1="106.30" y1="1238.00" x2="499.80" y2="1238.00" stroke="#000" stroke-width="2.3"/>
<line x1="278.75" y1="1199.90" x2="278.75" y2="1196.35" stroke="#000" stroke-width="0.85"/>
<circle cx="278.75" cy="1196.35" r="1.1" fill="#000"/>
<line x1="278.75" y1="1199.90" x2="281.82" y2="1198.12" stroke="#000" stroke-width="0.85"/>
<circle cx="281.82" cy="1198.12" r="1.1" fill="#000"/>
<line x1="278.75" y1="1199.90" x2="281.82" y2="1201.68" stroke="#000" stroke-width="0.85"/>
<circle cx="281.82" cy="1201.68" r="1.1" fill="#000"/>
<line x1="278.75" y1="1199.90" x2="278.75" y2="1203.45" stroke="#000" stroke-width="0.85"/>
<circle cx="278.75" cy="1203.45" r="1.1" fill="#000"/>
<line x1="278.75" y1="1199.90" x2="275.68" y2="1201.68" stroke="#000" stroke-width="0.85"/>
<circle cx="275.68" cy="1201.68" r="1.1" fill="#000"/>
<line x1="278.75" y1="1199.90" x2="275.68" y2="1198.12" stroke="#000" stroke-width="0.85"/>
<circle cx="275.68" cy="1198.12" r="1.1" fill="#000"/>
<line x1="381.10" y1="1201.60" x2="381.10" y2="1198.05" stroke="#000" stroke-width="0.85"/>
<circle cx="381.10" cy="1198.05" r="1.1" fill="#000"/>
<line x1="381.10" y1="1201.60" x2="384.17" y2="1199.82" stroke="#000" stroke-width="0.85"/>
<circle cx="384.17" cy="1199.82" r="1.1" fill="#000"/>
<line x1="381.10" y1="1201.60" x2="384.17" y2="1203.38" stroke="#000" stroke-width="0.85"/>
<circle cx="384.17" cy="1203.38" r="1.1" fill="#000"/>
<line x1="381.10" y1="1201.60" x2="381.10" y2="1205.15" stroke="#000" stroke-width="0.85"/>
<circle cx="381.10" cy="1205.15" r="1.1" fill="#000"/>
<line x1="381.10" y1="1201.60" x2="378.03" y2="1203.38" stroke="#000" stroke-width="0.85"/>
<circle cx="378.03" cy="1203.38" r="1.1" fill="#000"/>
<line x1="381.10" y1="1201.60" x2="378.03" y2="1199.82" stroke="#000" stroke-width="0.85"/>
<circle cx="378.03" cy="1199.82" r="1.1" fill="#000"/>
<line x1="350.50" y1="963.80" x2="350.50" y2="960.25" stroke="#000" stroke-width="0.85"/>
<circle cx="350.50" cy="960.25" r="1.1" fill="#000"/>
<line x1="350.50" y1="963.80" x2="353.57" y2="962.02" stroke="#000" stroke-width="0.85"/>
<circle cx="353.57" cy="962.02" r="1.1" fill="#000"/>
<line x1="350.50" y1="963.80" x2="353.57" y2="965.57" stroke="#000" stroke-width="0.85"/>
<circle cx="353.57" cy="965.57" r="1.1" fill="#000"/>
<line x1="350.50" y1="963.80" x2="350.50" y2="967.35" stroke="#000" stroke-width="0.85"/>
<circle cx="350.50" cy="967.35" r="1.1" fill="#000"/>
<line x1="350.50" y1="963.80" x2="347.43" y2="965.57" stroke="#000" stroke-width="0.85"/>
<circle cx="347.43" cy="965.57" r="1.1" fill="#000"/>
<line x1="350.50" y1="963.80" x2="347.43" y2="962.02" stroke="#000" stroke-width="0.85"/>
<circle cx="347.43" cy="962.02" r="1.1" fill="#000"/>
<line x1="361.70" y1="963.80" x2="361.70" y2="960.25" stroke="#000" stroke-width="0.85"/>
<circle cx="361.70" cy="960.25" r="1.1" fill="#000"/>
<line x1="361.70" y1="963.80" x2="364.77" y2="962.02" stroke="#000" stroke-width="0.85"/>
<circle cx="364.77" cy="962.02" r="1.1" fill="#000"/>
<line x1="361.70" y1="963.80" x2="364.77" y2="965.57" stroke="#000" stroke-width="0.85"/>
<circle cx="364.77" cy="965.57" r="1.1" fill="#000"/>
<line x1="361.70" y1="963.80" x2="361.70" y2="967.35" stroke="#000" stroke-width="0.85"/>
<circle cx="361.70" cy="967.35" r="1.1" fill="#000"/>
<line x1="361.70" y1="963.80" x2="358.63" y2="965.57" stroke="#000" stroke-width="0.85"/>
<circle cx="358.63" cy="965.57" r="1.1" fill="#000"/>
<line x1="361.70" y1="963.80" x2="358.63" y2="962.02" stroke="#000" stroke-width="0.85"/>
<circle cx="358.63" cy="962.02" r="1.1" fill="#000"/>
<rect x="134.50" y="907.10" width="19.3" height="19.3" fill="#fff" stroke="#000" stroke-width="2"/>
<rect x="134.50" y="953.20" width="19.3" height="19.3" fill="url(#hatchLC)" stroke="#000" stroke-width="2"/>
<text transform="translate(175.50,924.00) scale(1.0,1.0)" font-size="22.5" text-anchor="start" font-weight="normal">Fac +/+</text>
<text transform="translate(175.50,970.10) scale(1.0,1.0)" font-size="22.5" text-anchor="start" font-weight="normal">Fac -/-</text>
<text transform="translate(485.30,913.30) scale(0.95,1.0)" font-size="28" text-anchor="middle" font-weight="bold">C</text>
<text transform="translate(35.00,1066.20) rotate(-90) scale(1.005,1)" font-size="22.5" text-anchor="middle">Number of CFC / Spleen</text>
</g>
</g>
</svg>
</body></html>
